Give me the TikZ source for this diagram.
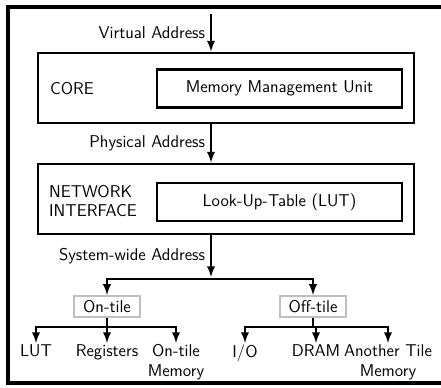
\documentclass[tikz,border=0pt]{standalone}
\usetikzlibrary{positioning}
\newcommand{\diagfont}{\sffamily\fontsize{11.6}{13.4}\selectfont}
\tikzset{
  unit/.style={draw, line width=2pt, minimum height=70*0.68pt, minimum width=376*0.68pt},
  subunit/.style={draw, line width=2pt, minimum height=38*0.68pt, minimum width=245*0.68pt},
  tilebox/.style={draw=black!25, line width=1.4pt, inner xsep=6pt, inner ysep=2pt, minimum height=21*0.68pt},
  leaf/.style={anchor=north, align=center, inner sep=1pt},
  flow/.style={->, line width=1.5pt},
}
\begin{document}
\begin{tikzpicture}[x=0.68pt, y=-0.68pt, font=\diagfont, >=latex]
    \useasboundingbox (0,0) rectangle (441,388);
    \draw[line width=2.2pt] (8,7) rectangle (448,383);

    % core and network interface
    \node[unit] (core) at (226,88) {};
    \node[subunit] (mmu) at (279.5,88.5) {Memory Management Unit};
    \node[anchor=west] at (45,89) {CORE};
    \node[unit] (ni) at (226,199) {};
    \node[subunit] (lut) at (279.5,202) {Look-Up-Table (LUT)};
    \node[anchor=west, align=left] at (44,201) {NETWORK\\INTERFACE};

    \coordinate (va) at (211,14);
    \coordinate (split) at (211,279);
    \draw[flow] (va) -- node[left] {Virtual Address} (va |- core.north);
    \draw[flow] (va |- core.south) -- node[left] {Physical Address} (va |- ni.north);
    \draw[flow] (va |- ni.south) -- node[left] {System-wide Address} ([yshift=2*0.68pt]split);

    % on-tile / off-tile
    \node[tilebox] (ontile) at (107,306.5) {On-tile};
    \node[tilebox] (offtile) at (313,306.5) {Off-tile};
    \draw[flow] (split) -| (ontile.north);
    \draw[flow] (split) -| (offtile.north);

    % targets
    \node[leaf] (lutmem) at (36,343) {LUT};
    \node[leaf] (regs) at (107,343) {Registers};
    \node[leaf] (onmem) at (176,343) {On-tile\\Memory};
    \node[leaf] (io) at (245,343) {I/O};
    \node[leaf] (dram) at (316,343) {DRAM};
    \node[leaf] (other) at (388,343) {Another Tile\\Memory};

    \coordinate (onbar) at (107,327);
    \coordinate (offbar) at (313,327);
    \draw[line width=1.5pt] (ontile.south) -- (onbar);
    \draw[line width=1.5pt] (offtile.south) -- (offbar);
    \draw[flow] (onbar) -| (lutmem.north);
    \draw[flow] (onbar) -- (regs.north);
    \draw[flow] (onbar) -| (onmem.north);
    \draw[flow] (offbar) -| (io.north);
    \draw[flow] (offbar) -| (dram.north);
    \draw[flow] (offbar) -| (other.north);
\end{tikzpicture}
\end{document}
